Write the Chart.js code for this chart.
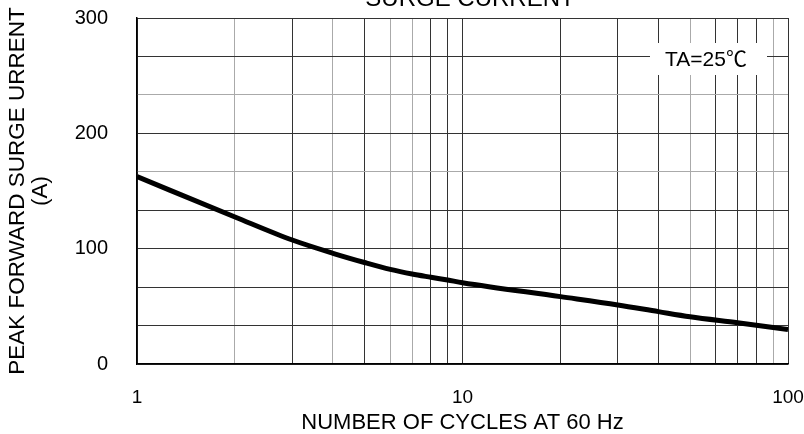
<!DOCTYPE html>
<html>
<head>
<meta charset="utf-8">
<script src="https://cdn.jsdelivr.net/npm/chart.js@4"></script>
<style>
html,body{margin:0;padding:0;background:#fff;}
#wrap{width:804px;height:434px;overflow:hidden;}
</style>
</head>
<body>
<div id="wrap"><canvas id="c" width="804" height="434"></canvas></div>
<script>
// data
var cycles = [1,2,3,4,5,6,7,8,9,10,20,30,40,50,70,100];
var current = [162.5,127.5,107.5,96,88,82,78,75.2,72.8,70.5,58.4,51.2,45.4,41,35.8,30];

var xGrid = [1,2,3,4,5,6,7,8,9,10,20,30,40,50,60,70,80,90,100];
var xLabels = [1,10,100];
var xLight = [2,4,6,7,50,90];
var yGrid = [0,100/3,200/3,100,400/3,500/3,200,700/3,800/3,300];
var yLabels = [0,100,200,300];
var yLight = [500/3,700/3];

var FONT = "'Liberation Sans', Arial, 'Noto Sans CJK SC', sans-serif";

function near(v, arr){
  for (var i=0;i<arr.length;i++){ if (Math.abs(arr[i]-v) < 0.01) return true; }
  return false;
}

var extras = {
  id: 'extras',
  afterDraw: function(chart){
    var ctx = chart.ctx;
    ctx.save();
    // title, cut off at the top like the original
    ctx.fillStyle = '#000';
    ctx.font = '24px ' + FONT;
    ctx.textAlign = 'center';
    ctx.textBaseline = 'alphabetic';
    ctx.fillText('SURGE CURRENT', 470, 6);
    // temperature note on a white patch
    ctx.fillStyle = '#fff';
    ctx.fillRect(650, 43, 117, 32);
    ctx.fillStyle = '#000';
    ctx.font = '21px ' + FONT;
    ctx.textBaseline = 'middle';
    ctx.fillText('TA=25\u2103', 706, 60);
    ctx.restore();
  }
};

var data = {
  labels: cycles,
  datasets: [{
    data: cycles.map(function(c, i){ return {x: c, y: current[i]}; }),
    borderColor: '#000',
    borderWidth: 5,
    pointRadius: 0,
    fill: false,
    tension: 0.4,
    cubicInterpolationMode: 'monotone'
  }]
};

var options = {
  responsive: false,
  animation: false,
  layout: { padding: {top: 18, right: 16, left: 0, bottom: 0} },
  plugins: { legend: {display: false}, tooltip: {enabled: false}, title: {display: false} },
  scales: {
    x: {
      type: 'logarithmic',
      min: 1,
      max: 100,
      afterBuildTicks: function(s){ s.ticks = xGrid.map(function(v){ return {value: v}; }); },
      afterFit: function(s){ s.height = 70; },
      grid: {
        drawTicks: true,
        tickLength: 22,
        tickColor: 'rgba(0,0,0,0)',
        color: function(c){ return (c.tick && near(c.tick.value, xLight)) ? '#aaaaaa' : '#333333'; },
        lineWidth: 1
      },
      border: { color: '#000', width: 1.5 },
      ticks: {
        autoSkip: false,
        maxRotation: 0,
        padding: 0,
        color: '#000',
        font: { family: FONT, size: 19 },
        callback: function(v){ return near(v, xLabels) ? String(v) : ''; }
      },
      title: {
        display: true,
        text: 'NUMBER OF CYCLES AT 60 Hz',
        color: '#000',
        font: { family: FONT, size: 22, lineHeight: 1.05 },
        padding: { top: 0, bottom: 0 }
      }
    },
    y: {
      min: 0,
      max: 300,
      afterBuildTicks: function(s){ s.ticks = yGrid.map(function(v){ return {value: v}; }); },
      afterFit: function(s){ s.width = 137; },
      grid: {
        drawTicks: true,
        tickLength: 27,
        tickColor: 'rgba(0,0,0,0)',
        color: function(c){ return (c.tick && near(c.tick.value, yLight)) ? '#aaaaaa' : '#333333'; },
        lineWidth: 1
      },
      border: { color: '#000', width: 1.5 },
      ticks: {
        padding: 2,
        color: '#000',
        font: { family: FONT, size: 20 },
        callback: function(v){
          for (var i=0;i<yLabels.length;i++){ if (Math.abs(yLabels[i]-v) < 0.01) return String(yLabels[i]); }
          return '';
        }
      },
      title: {
        display: true,
        text: ['PEAK FORWARD SURGE URRENT', '(A)'],
        color: '#000',
        font: { family: FONT, size: 22.5, lineHeight: 1.0 },
        padding: { top: 7, bottom: 0 }
      }
    }
  }
};

var c = document.getElementById('c');
var chart = new Chart(c.getContext('2d'), {
  type: 'line',
  data: data,
  options: options,
  plugins: [extras]
});
</script>
</body>
</html>
